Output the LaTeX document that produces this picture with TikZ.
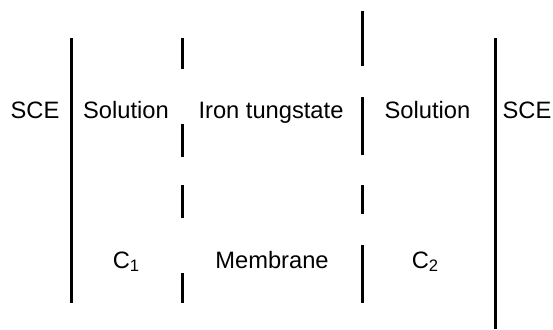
\documentclass[tikz,border=0pt]{standalone}
\usepackage{fontspec}
\setmainfont{Liberation Sans}
\begin{document}
\begin{tikzpicture}[x=0.5pt,y=-0.5pt,
  wall/.style={line width=1.5pt},
  lbl/.style={anchor=base,inner sep=0pt,font=\fontsize{11.85}{14}\selectfont}]
\useasboundingbox (0,0) rectangle (553,329);
% left SCE junction
\draw[wall] (71,38) -- (71,303);
% dashed boundary between solution and membrane
\draw[wall] (182,38) -- (182,69);
\draw[wall] (182,124) -- (182,157);
\draw[wall] (182,185) -- (182,218);
\draw[wall] (182,273) -- (182,303);
% boundary between membrane and solution 2
\draw[wall] (362.5,11) -- (362.5,66);
\draw[wall] (362.5,97) -- (362.5,155);
\draw[wall] (362.5,185) -- (362.5,214);
\draw[wall] (362.5,245) -- (362.5,303);
% right SCE junction
\draw[wall] (495,38) -- (495,329);
% labels
\node[lbl] (sceL) at (35,118.5) {SCE};
\node[lbl] (solL) at (126,118.5) {Solution};
\node[lbl] (iron) at (271,118.5) {Iron tungstate};
\node[lbl] (solR) at (427.5,118.5) {Solution};
\node[lbl] (sceR) at (527,118.5) {SCE};
\node[lbl] (c1) at (126.5,268) {C\textsubscript{1}};
\node[lbl] (memb) at (272,268) {Membrane};
\node[lbl] (c2) at (425.5,268) {C\textsubscript{2}};
\end{tikzpicture}
\end{document}
